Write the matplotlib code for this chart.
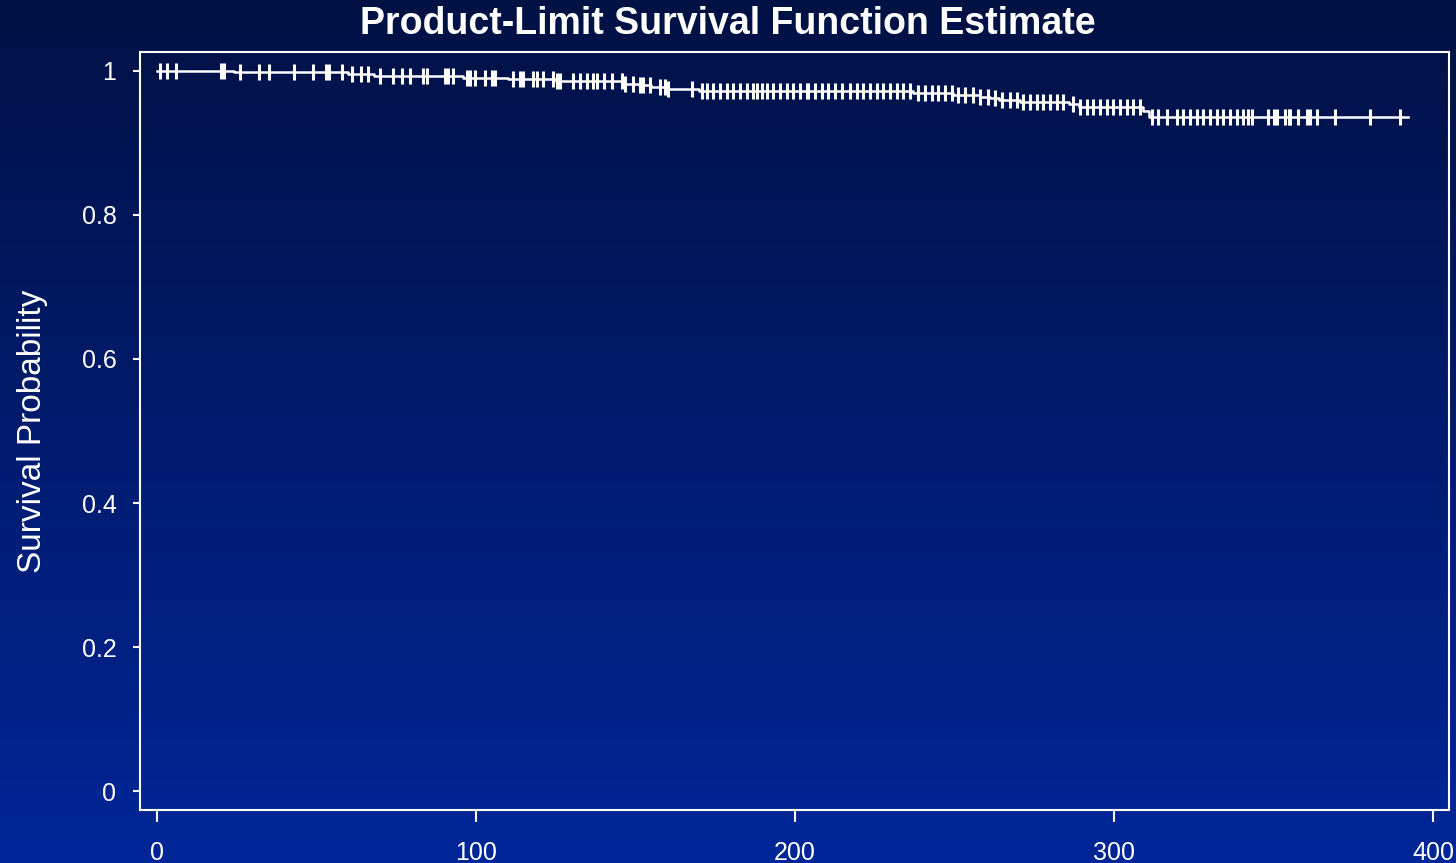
import numpy as np
import matplotlib
matplotlib.use("Agg")
from matplotlib import pyplot as plt
from matplotlib.colors import LinearSegmentedColormap

# step points of the product-limit estimate (time, survival)
step_times = [0, 24, 60, 68, 96, 110, 125, 146, 151, 155, 160, 170, 237, 249.5,
              258, 261, 264, 270.5, 286, 289, 309, 311, 392]
step_surv = [1.0, 0.9985, 0.996, 0.993, 0.990, 0.988, 0.986, 0.982, 0.980, 0.978,
             0.975, 0.972, 0.969, 0.9667, 0.964, 0.9626, 0.960, 0.957, 0.9535,
             0.950, 0.944, 0.936, 0.936]

# censored observation times
censor_times = [1, 3, 6, 20, 21, 26, 32, 35, 43, 49, 53, 54, 58, 61, 64, 66,
                70, 74, 76.7, 79.3, 83.4, 84.6, 90.3, 91.2, 92.8, 97.1, 98.1, 99.7,
                102.8, 104.9, 106, 111.6, 113.8, 114.7, 117.9, 119, 121, 124, 125.3,
                126.3, 130.4, 132.6, 134.7, 136.8, 137.9, 140, 142.6, 145.8, 146.7,
                149.3, 151.4, 152.5, 154.6, 157.7, 159.2, 160.3, 167.6, 170.8, 172.3,
                174.4, 176.5, 178.6, 180.7, 182.8, 184.8, 186.9, 188, 189.6, 191.1,
                193.2, 195.3, 197.4, 199.4, 201.6, 203.7, 204.2, 206.3, 208.4, 210.4,
                212.5, 214.6, 217.2, 219.3, 221.4, 223.5, 225.6, 227.7, 229.8, 231.9,
                233.9, 236.1, 238.7, 240.8, 242.9, 244.9, 247.0, 249.1, 251.2, 253.3,
                255.9, 258.0, 260.6, 262.7, 264.8, 267.4, 269.5, 271.6, 273.7, 275.8,
                277.8, 279.9, 282.0, 284.1, 287.2, 289.3, 291.4, 293.5, 295.6, 297.7,
                299.8, 301.9, 304.0, 306.1, 308.2, 311.8, 313.9, 316.5, 319.7, 321.7,
                323.8, 325.9, 328.0, 330.1, 332.2, 334.3, 336.4, 338.5, 340.5, 342.1,
                343.2, 348.4, 350, 351, 353.6, 354.7, 355.2, 357.8, 360.4, 361.4,
                363.5, 369.3, 380.3, 389.7]

x_ticks = [0, 100, 200, 300, 400]
y_ticks = [0, 0.2, 0.4, 0.6, 0.8, 1]
y_tick_labels = ["0", "0.2", "0.4", "0.6", "0.8", "1"]

plt.rcParams['font.family'] = ['Liberation Sans', 'DejaVu Sans']

fig = plt.figure(figsize=(14.56, 8.63), dpi=100)

# background gradient
bg = fig.add_axes([0, 0, 1, 1], zorder=0)
grad = LinearSegmentedColormap.from_list("bg", [(0 / 255, 38 / 255, 152 / 255),
                                                (0 / 255, 17 / 255, 68 / 255)])
bg.imshow(np.linspace(0, 1, 256).reshape(-1, 1), aspect='auto', cmap=grad,
          origin='lower', extent=[0, 1, 0, 1])
bg.axis('off')

ax = fig.add_axes([0.0962, 0.0614, 0.899, 0.8783], zorder=1)
ax.patch.set_alpha(0)

ax.step(step_times, step_surv, where='post', color='white', lw=1.8)

idx = np.searchsorted(step_times, censor_times, side='right') - 1
censor_surv = np.array(step_surv)[idx]
ax.plot(censor_times, censor_surv, ls='none', marker='|', ms=11, mew=2.2, color='white')

ax.set_xlim(-5.3, 405)
ax.set_ylim(-0.026, 1.026)
ax.set_xticks(x_ticks)
ax.set_yticks(y_ticks)
ax.set_yticklabels(y_tick_labels)

for s in ax.spines.values():
    s.set_color('white')
    s.set_linewidth(1.5)
ax.tick_params(axis='both', colors='white', labelcolor='white', labelsize=18, width=1.5)
ax.tick_params(axis='x', length=8.5, pad=14, direction='out')
ax.tick_params(axis='y', length=5, pad=12, direction='out')

ax.set_ylabel('Survival Probability', color='white', fontsize=24, labelpad=24)
fig.text(0.5, 0.972, 'Product-Limit Survival Function Estimate', color='white',
         fontsize=27, fontweight='bold', ha='center', va='center')

plt.savefig('out.png', dpi=100)
